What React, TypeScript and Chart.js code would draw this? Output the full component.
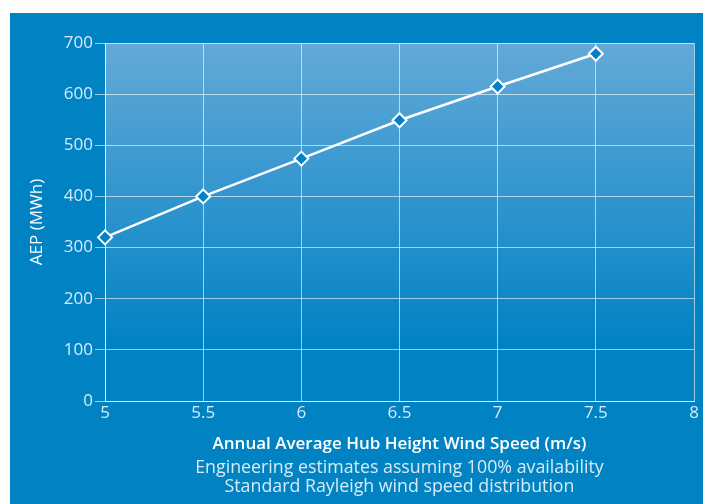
import React, { useEffect, useRef } from "react";
import { Chart, registerables } from "chart.js";

Chart.register(...registerables);

const windSpeeds = [5, 5.5, 6, 6.5, 7, 7.5];
const aepValues = [320, 400, 474, 549, 615, 679];
const xTitle = "Annual Average Hub Height Wind Speed (m/s)";
const yTitle = "AEP (MWh)";
const notes = [
  "Engineering estimates assuming 100% availability",
  "Standard Rayleigh wind speed distribution",
];

const BASE = "#0082c3";
const FONT = "'Open Sans', sans-serif";

const bgPlugin = {
  id: "areaBg",
  beforeDraw(chart: any) {
    const { ctx, chartArea } = chart;
    if (!chartArea) return;
    const g = ctx.createLinearGradient(0, chartArea.top, 0, chartArea.bottom);
    g.addColorStop(0, "#64a9d8");
    g.addColorStop(0.85, BASE);
    g.addColorStop(1, BASE);
    ctx.save();
    ctx.fillStyle = g;
    ctx.fillRect(chartArea.left, chartArea.top, chartArea.right - chartArea.left, chartArea.bottom - chartArea.top);
    ctx.restore();
  },
};

const notesPlugin = {
  id: "notes",
  afterDraw(chart: any) {
    const { ctx, chartArea } = chart;
    const cx = (chartArea.left + chartArea.right) / 2;
    ctx.save();
    ctx.font = `17.8px ${FONT}`;
    ctx.fillStyle = "#d6ebf7";
    ctx.textAlign = "center";
    ctx.textBaseline = "middle";
    notes.forEach((t, i) => ctx.fillText(t, cx, 455 + i * 19));
    ctx.restore();
  },
};

export default function App() {
  const ref = useRef<HTMLCanvasElement>(null);
  useEffect(() => {
    if (!ref.current) return;
    const chart = new Chart(ref.current, {
      type: "line",
      data: {
        datasets: [
          {
            data: windSpeeds.map((x, i) => ({ x, y: aepValues[i] })),
            borderColor: "#ffffff",
            borderWidth: 2.5,
            backgroundColor: BASE,
            pointStyle: "rectRot",
            pointRadius: 7,
            pointBorderWidth: 2,
            pointBorderColor: "#ffffff",
            pointBackgroundColor: BASE,
            tension: 0,
            clip: false,
          },
        ],
      },
      options: {
        animation: false,
        responsive: false,
        layout: { padding: { top: 30, right: 9, left: 0, bottom: 0 } },
        plugins: { legend: { display: false }, tooltip: { enabled: false }, title: { display: false } },
        scales: {
          x: {
            type: "linear",
            min: 5,
            max: 8,
            ticks: {
              stepSize: 0.5,
              color: "#d6ebf7",
              font: { family: FONT, size: 17 },
              padding: 2,
              callback: (v: any) => String(Number(v)),
            },
            grid: { color: "rgba(255,255,255,0.6)", drawTicks: false, lineWidth: 1 },
            border: { color: "rgba(255,255,255,0.75)" },
            title: {
              display: true,
              text: xTitle,
              color: "#ffffff",
              font: { family: FONT, size: 17, weight: "600" },
              padding: { top: 0, bottom: 50 },
            },
            afterFit(s: any) {
              s.height = 103;
            },
          },
          y: {
            min: 0,
            max: 700,
            ticks: { stepSize: 100, color: "#d6ebf7", font: { family: FONT, size: 17 }, padding: 2 },
            grid: { color: "rgba(255,255,255,0.6)", tickLength: 10, lineWidth: 1 },
            border: { color: "rgba(255,255,255,0.75)" },
            title: {
              display: true,
              text: yTitle,
              color: "#ffffff",
              font: { family: FONT, size: 17 },
              padding: { top: 17, bottom: 0 },
            },
            afterFit(s: any) {
              s.width = 95;
            },
          },
        },
      },
      plugins: [bgPlugin, notesPlugin],
    } as any);
    return () => chart.destroy();
  }, []);
  return (
    <div style={{ position: "absolute", left: 0, top: 0, width: 708, height: 504, background: "#ffffff" }}>
      <div style={{ position: "absolute", left: 10, top: 13, width: 693, height: 491, background: BASE }}>
        <canvas ref={ref} width={693} height={491} style={{ display: "block", width: 693, height: 491 }} />
      </div>
    </div>
  );
}
